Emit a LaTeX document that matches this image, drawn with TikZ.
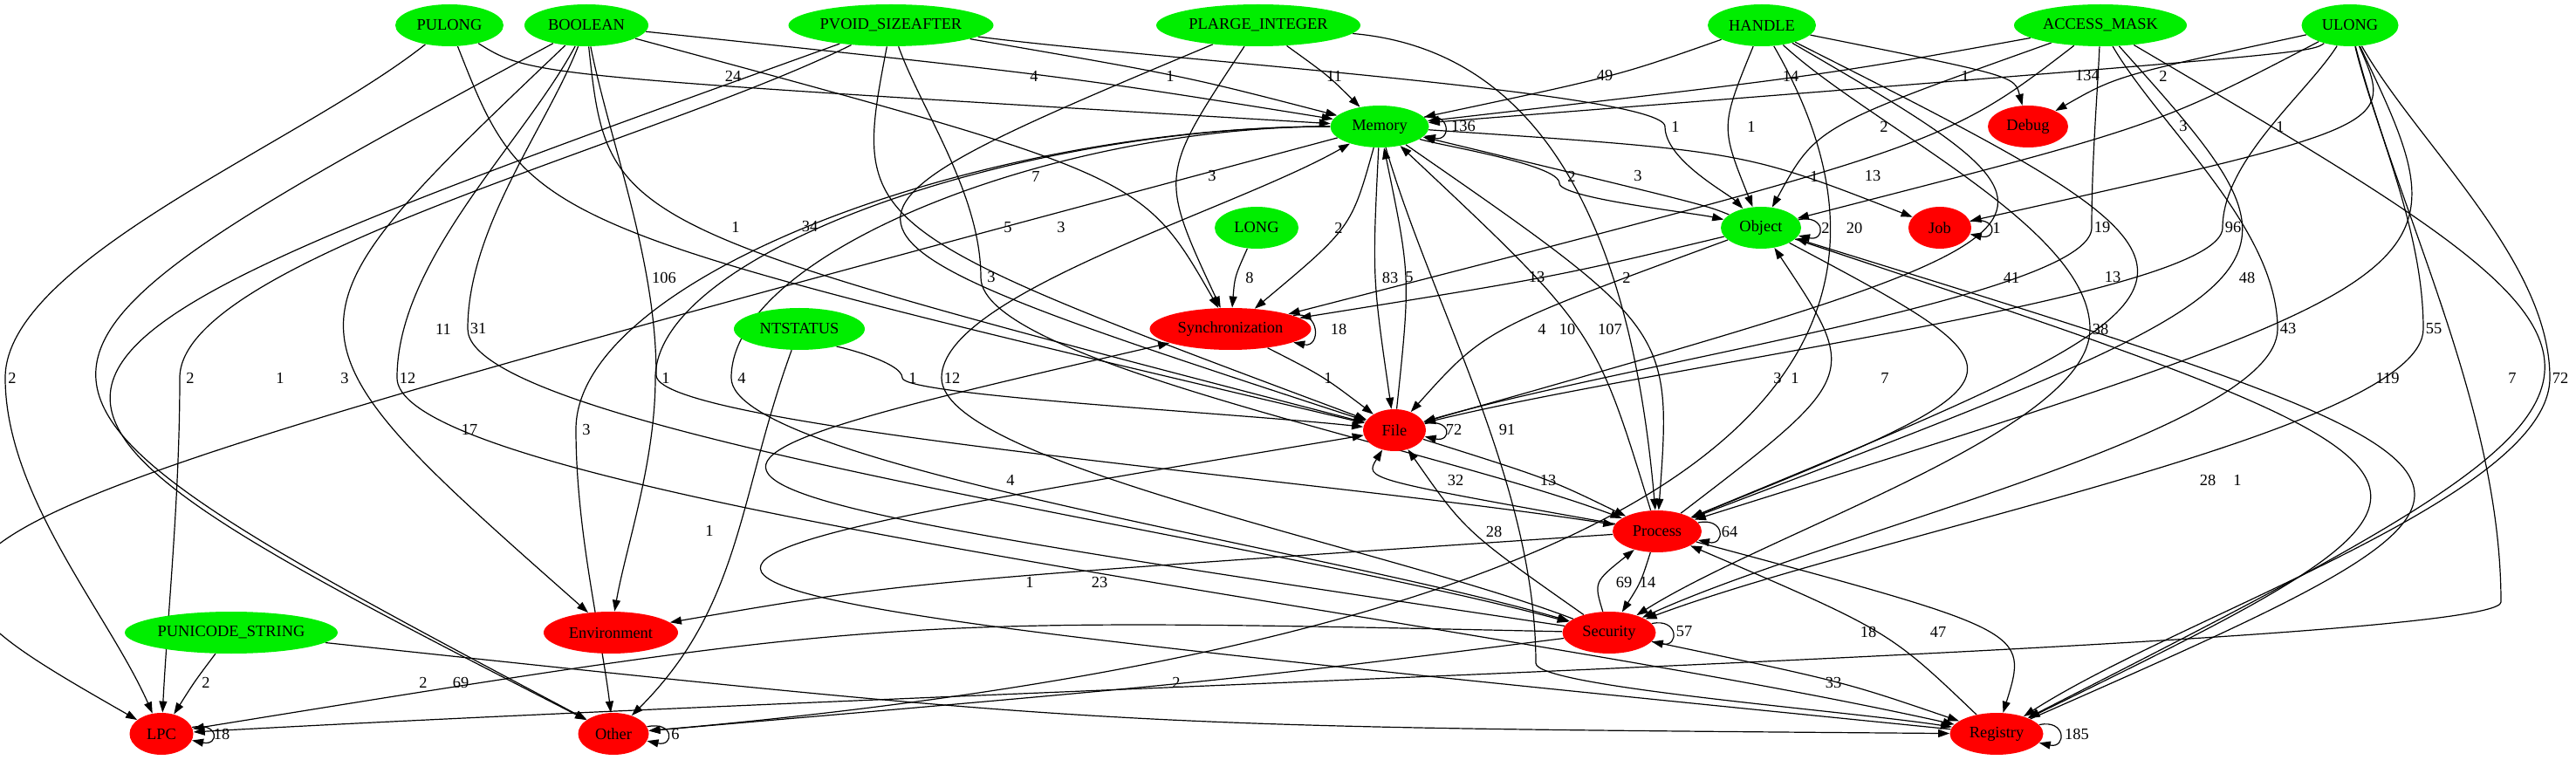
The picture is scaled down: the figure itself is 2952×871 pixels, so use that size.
\documentclass[tikz,border=0pt]{standalone}
\usepackage{fontspec}
\setmainfont{Liberation Serif}
\usepackage{tikz}
\usetikzlibrary{arrows.meta,shapes,calc,backgrounds}
\usetikzlibrary{positioning}
\definecolor{typegreen}{RGB}{0,238,0}
\definecolor{groupred}{RGB}{255,0,0}
\tikzset{
    state/.style={
           ellipse,
           draw=none,
           inner sep=0pt,
           minimum height=24pt,
           text centered,
           font=\fontsize{9.2}{11}\selectfont,
           },
    typ/.style={state, fill=typegreen},
    grp/.style={state, fill=groupred},
    pil/.style={
           ->,
           line width=0.6pt,},
    lab/.style={
           inner sep=0pt,
           font=\fontsize{9.2}{11}\selectfont,},
    via/.style={
           to path={let \p1=(\tikztostart), \p2=(\tikztotarget),
                    \p3=($(#1)+(-12,0)$) in
                    .. controls ($2*(\p3)-0.5*(\p1)-0.5*(\p2)$) .. (\tikztotarget) \tikztonodes}},
    vdrop/.style={
           to path={let \p1=(\tikztostart), \p2=(\tikztotarget),
                    \p3=($(#1)+(-12,0)$) in
                    .. controls ($(\p1)!0.333!(\p3)$) and (\x3,{\y3-(\y3-\y1)/3}) .. (\p3)
                    .. controls (\x3,{\y3+(\y2-\y3)/3}) and ($(\p2)!0.333!(\p3)$) .. (\tikztotarget) \tikztonodes}},
    hdrop/.style={
           to path={let \p1=(\tikztostart), \p2=(\tikztotarget),
                    \p3=($(#1)+(-12,0)$) in
                    .. controls ({(\x1+\x3)/2},\y1) and (\x3,{(\y1+\y3)/2}) .. (\p3)
                    .. controls (\x3,{\y3+(\y2-\y3)/3}) and ($(\p2)!0.333!(\p3)$) .. (\tikztotarget) \tikztonodes}},
    selfloop/.style={
           out=12, in=-12,
           looseness=1,
           min distance=16pt,}
}
\begin{document}
\begin{tikzpicture}[x=0.5pt, y=-0.5pt, >={Triangle[length=6.5pt,width=4.5pt]}]
\useasboundingbox (0,0) rectangle (2952,871);
% TYPES (top row)
\node[typ, minimum width=62pt] (PULONG) at (515,29) {PULONG};
\node[typ, minimum width=71pt, right of=PULONG, node distance=78.5pt] (BOOLEAN) {BOOLEAN};
\node[typ, minimum width=117.5pt, right of=BOOLEAN, node distance=174.5pt] (PVOID) {PVOID\_SIZEAFTER};
\node[typ, minimum width=117pt, right of=PVOID, node distance=210.5pt] (PLARGE) {PLARGE\_INTEGER};
\node[typ, minimum width=62pt, right of=PLARGE, node distance=288.5pt] (HANDLE) {HANDLE};
\node[typ, minimum width=99pt, right of=HANDLE, node distance=194pt] (ACCESS) {ACCESS\_MASK};
\node[typ, minimum width=55.5pt, right of=ACCESS, node distance=143pt] (ULONG) {ULONG};
% Memory and Debug
\node[typ, minimum width=56.5pt, below of=PLARGE, node distance=58pt, xshift=69.5pt] (MEMORY) {Memory};
\node[grp, minimum width=46pt, below of=ACCESS, node distance=58pt, xshift=-41.5pt] (DEBUG) {Debug};
% LONG, Object and Job
\node[typ, minimum width=48pt, below of=MEMORY, node distance=58pt, xshift=-70.5pt] (LONG) {LONG};
\node[typ, minimum width=46pt, below of=HANDLE, node distance=116pt, xshift=-0.5pt] (OBJECT) {Object};
\node[grp, minimum width=36pt, right of=OBJECT, node distance=102.5pt] (JOB) {Job};
% Synchronization and NTSTATUS
\node[grp, minimum width=92.5pt, below of=LONG, node distance=58pt, xshift=-15pt] (SYNC) {Synchronization};
\node[typ, minimum width=75pt, left of=SYNC, node distance=247pt] (NTSTATUS) {NTSTATUS};
% File and Process
\node[grp, minimum width=36pt, below of=MEMORY, node distance=174pt, xshift=8.5pt] (FILE) {File};
\node[grp, minimum width=51pt, below of=FILE, node distance=58pt, xshift=150.5pt] (PROCESS) {Process};
% Security, Environment and PUNICODE_STRING
\node[grp, minimum width=53.5pt, below of=PROCESS, node distance=58pt, xshift=-27.5pt] (SECURITY) {Security};
\node[grp, minimum width=77pt, left of=SECURITY, node distance=572pt] (ENV) {Environment};
\node[typ, minimum width=122pt, left of=ENV, node distance=217.5pt] (PUNICODE) {PUNICODE\_STRING};
% Bottom row
\node[grp, minimum width=36.5pt, below of=PUNICODE, node distance=58pt, xshift=-40pt] (LPC) {LPC};
\node[grp, minimum width=40.5pt, below of=ENV, node distance=58pt, xshift=1.5pt] (OTHER) {Other};
\node[grp, minimum width=53.5pt, below of=SECURITY, node distance=58pt, xshift=222pt] (REGISTRY) {Registry};
% Draw lines on graph
\begin{scope}[on background layer]
% into Memory and Debug
\path (PULONG) edge[pil, via={840,87}] (MEMORY) node[lab] at (840,87) {24};
\path (BOOLEAN) edge[pil, via={1185,87}] (MEMORY) node[lab] at (1185,87) {4};
\path (PVOID) edge[pil, via={1341,87}] (MEMORY) node[lab] at (1341,87) {1};
\path (PLARGE) edge[pil, via={1529,87}] (MEMORY) node[lab] at (1529,87) {11};
\path (HANDLE) edge[pil, via={1839,87}] (MEMORY) node[lab] at (1839,87) {49};
\path (ACCESS) edge[pil, via={2052,87}] (MEMORY) node[lab] at (2052,87) {14};
\path (HANDLE) edge[pil, via={2252,87}] (DEBUG) node[lab] at (2252,87) {1};
\path (ULONG) edge[pil, via={2404,74}] (MEMORY) node[lab] at (2392,87) {134};
\path (ULONG) edge[pil, via={2479,87}] (DEBUG) node[lab] at (2479,87) {2};
% into Object and Job
\path (PVOID) edge[pil, vdrop={1920,145}] (OBJECT) node[lab] at (1920,145) {1};
\path (HANDLE) edge[pil, via={2007,145}] (OBJECT) node[lab] at (2007,145) {1};
\path (ACCESS) edge[pil, via={2159,145}] (OBJECT) node[lab] at (2159,145) {2};
\path (ULONG) edge[pil, via={2425,145}] (OBJECT) node[lab] at (2502,145) {3};
\path (ULONG) edge[pil, via={2613,145}] (JOB) node[lab] at (2613,145) {1};
\path (MEMORY) edge[pil, vdrop={1799,210}] (OBJECT) node[lab] at (1801,202) {2};
\path (OBJECT) edge[pil, via={1889,219}] (MEMORY) node[lab] at (1877,202) {3};
\path (MEMORY) edge[pil, via={1962,188}] (JOB) node[lab] at (2079,202) {1};
% into Synchronization
\path (BOOLEAN) edge[pil, via={1187,202}] (SYNC) node[lab] at (1187,202) {7};
\path (PLARGE) edge[pil, via={1389,202}] (SYNC) node[lab] at (1389,202) {3};
\path (ACCESS) edge[pil, via={2080,185}] (SYNC) node[lab] at (2146,202) {13};
\path (MEMORY) edge[pil, via={1534,261}] (SYNC) node[lab] at (1534,261) {2};
\path (LONG) edge[pil, via={1432,318}] (SYNC) node[lab] at (1432,318) {8};
\path (OBJECT) edge[pil, via={1761,318}] (SYNC) node[lab] at (1761,318) {13};
\path (SECURITY) edge[pil, via={1158,550}] (SYNC) node[lab] at (1158,550) {4};
% into File
\path (PULONG) edge[pil, via={843,260}] (FILE) node[lab] at (843,260) {1};
\path (BOOLEAN) edge[pil, via={928,260}] (FILE) node[lab] at (928,260) {34};
\path (PVOID) edge[pil, via={1155,261}] (FILE) node[lab] at (1155,261) {5};
\path (PLARGE) edge[pil, via={1216,261}] (FILE) node[lab] at (1216,261) {3};
\path (HANDLE) edge[pil, via={2125,261}] (FILE) node[lab] at (2125,261) {20};
\path (ACCESS) edge[pil, vdrop={2409,261}] (FILE) node[lab] at (2409,261) {19};
\path (ULONG) edge[pil, vdrop={2559,261}] (FILE) node[lab] at (2559,261) {96};
\path (MEMORY) edge[pil, via={1593,318}] (FILE) node[lab] at (1593,318) {83};
\path (FILE) edge[pil, via={1615,318}] (MEMORY) node[lab] at (1615,318) {5};
\path (OBJECT) edge[pil, via={1767,377}] (FILE) node[lab] at (1767,377) {4};
\path (NTSTATUS) edge[pil, vdrop={1046,433}] (FILE) node[lab] at (1046,433) {1};
\path (SYNC) edge[pil, via={1522,433}] (FILE) node[lab] at (1522,433) {1};
\path (PROCESS) edge[pil, via={1668,550}] (FILE) node[lab] at (1668,550) {32};
\path (SECURITY) edge[pil, via={1712,609}] (FILE) node[lab] at (1712,609) {28};
\path (REGISTRY) edge[pil, via={1260,667}] (FILE) node[lab] at (1260,667) {23};
% into Process
\path (BOOLEAN) edge[pil, vdrop={764,430}] (PROCESS) node[lab] at (761,318) {106};
\path (PVOID) edge[pil, vdrop={1136,318}] (PROCESS) node[lab] at (1136,318) {3};
\path (PLARGE) edge[pil, out=-5, in=95] (PROCESS) node[lab] at (1864,318) {2};
\path (HANDLE) edge[pil, via={2290,320}] (PROCESS) node[lab] at (2305,318) {41};
\path (ACCESS) edge[pil, via={2421,318}] (PROCESS) node[lab] at (2421,318) {13};
\path (ULONG) edge[pil, via={2575,318}] (PROCESS) node[lab] at (2575,318) {48};
\path (PROCESS) edge[pil, via={1796,377}] (MEMORY) node[lab] at (1796,377) {10};
\path (MEMORY) edge[pil, via={1840,377}] (PROCESS) node[lab] at (1845,377) {107};
\path (PROCESS) edge[pil, via={2057,433}] (OBJECT) node[lab] at (2057,433) {1};
\path (OBJECT) edge[pil, via={2160,433}] (PROCESS) node[lab] at (2160,433) {7};
\path (FILE) edge[pil, via={1774,550}] (PROCESS) node[lab] at (1774,550) {13};
\path (SECURITY) edge[pil, via={1861,667}] (PROCESS) node[lab] at (1861,667) {69};
\path (REGISTRY) edge[pil, via={2141,724}] (PROCESS) node[lab] at (2141,724) {18};
% into Environment and Security
\path (BOOLEAN) edge[pil, via={508,377}] (ENV) node[lab] at (508,377) {11};
\path (MEMORY) edge[pil, hdrop={763,433}] (ENV) node[lab] at (763,433) {1};
\path (PROCESS) edge[pil, via={1180,667}] (ENV) node[lab] at (1180,667) {1};
\path (BOOLEAN) edge[pil, vdrop={548,377}] (SECURITY) node[lab] at (548,377) {31};
\path (HANDLE) edge[pil, vdrop={2407,377}] (SECURITY) node[lab] at (2407,377) {38};
\path (ACCESS) edge[pil, vdrop={2622,377}] (SECURITY) node[lab] at (2622,377) {43};
\path (ULONG) edge[pil, vdrop={2789,377}] (SECURITY) node[lab] at (2789,377) {55};
\path (MEMORY) edge[pil, hdrop={850,433}] (SECURITY) node[lab] at (850,433) {4};
\path (SECURITY) edge[pil, vdrop={1091,433}] (MEMORY) node[lab] at (1091,433) {12};
\path (PROCESS) edge[pil, via={1888,667}] (SECURITY) node[lab] at (1888,667) {14};
% into LPC, Other and Registry
\path (PULONG) edge[pil, vdrop={18,433}] (LPC) node[lab] at (14,433) {2};
\path (PVOID) edge[pil, vdrop={218,433}] (LPC) node[lab] at (218,433) {2};
\path (ULONG) edge[pil, vdrop={2878,690}] (LPC) node[lab] at (2879,433) {7};
\path (MEMORY) edge[pil, via={354,557}] (LPC) node[lab] at (538,492) {17};
\path (PUNICODE) edge[pil, via={236,782}] (LPC) node[lab] at (236,782) {2};
\path (SECURITY) edge[pil, via={1026,745}] (LPC) node[lab] at (485,782) {2};
\path (BOOLEAN) edge[pil, via={321,433}] (OTHER) node[lab] at (321,433) {1};
\path (PVOID) edge[pil, via={395,433}] (OTHER) node[lab] at (395,433) {3};
\path (HANDLE) edge[pil, out=-60, in=5, looseness=1.1] (OTHER) node[lab] at (2037,433) {3};
\path (MEMORY) edge[pil, hdrop={672,492}] (OTHER) node[lab] at (672,492) {3};
\path (NTSTATUS) edge[pil, out=-110, in=45] (OTHER) node[lab] at (813,608) {1};
\path (SECURITY) edge[pil, via={1348,782}] (OTHER) node[lab] at (1348,782) {2};
\path (BOOLEAN) edge[pil, vdrop={467,433}] (REGISTRY) node[lab] at (467,433) {12};
\path (ACCESS) edge[pil, via={2731,433}] (REGISTRY) node[lab] at (2736,433) {119};
\path (ULONG) edge[pil, vdrop={2934,433}] (REGISTRY) node[lab] at (2934,433) {72};
\path (MEMORY) edge[pil, vdrop={1772,760}] (REGISTRY) node[lab] at (1727,492) {91};
\path (OBJECT) edge[pil, via={2530,550}] (REGISTRY) node[lab] at (2530,550) {28};
\path (REGISTRY) edge[pil, via={2564,550}] (OBJECT) node[lab] at (2564,550) {1};
\path (PROCESS) edge[pil, via={2221,724}] (REGISTRY) node[lab] at (2221,724) {47};
\path (PUNICODE) edge[pil, via={1288,808}] (REGISTRY) node[lab] at (528,782) {69};
\path (SECURITY) edge[pil, via={2101,782}] (REGISTRY) node[lab] at (2101,782) {33};
% self loops
\path (MEMORY) edge[pil, selfloop] (MEMORY) node[lab] at (1677,145) {136};
\path (OBJECT) edge[pil, selfloop] (OBJECT) node[lab] at (2092,261) {2};
\path (JOB) edge[pil, selfloop] (JOB) node[lab] at (2288,261) {1};
\path (SYNC) edge[pil, selfloop] (SYNC) node[lab] at (1534,377) {18};
\path (FILE) edge[pil, selfloop] (FILE) node[lab] at (1666,492) {72};
\path (PROCESS) edge[pil, selfloop] (PROCESS) node[lab] at (1982,609) {64};
\path (SECURITY) edge[pil, selfloop] (SECURITY) node[lab] at (1930,724) {57};
\path (LPC) edge[pil, selfloop] (LPC) node[lab] at (254,841) {18};
\path (OTHER) edge[pil, selfloop] (OTHER) node[lab] at (774,841) {6};
\path (REGISTRY) edge[pil, selfloop] (REGISTRY) node[lab] at (2380,841) {185};
\end{scope}
\end{tikzpicture}
\end{document}
